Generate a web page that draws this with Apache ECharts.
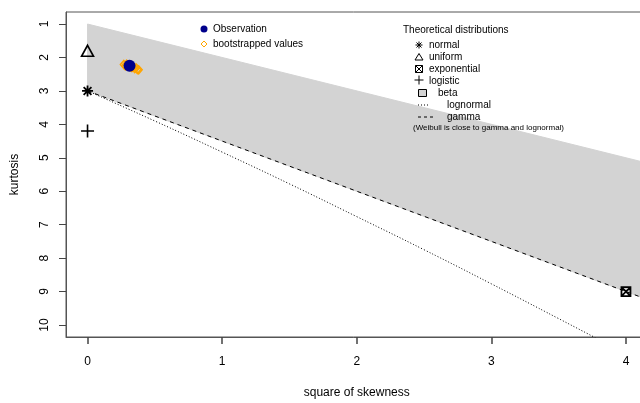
<!DOCTYPE html>
<html>
<head>
<meta charset="utf-8">
<script src="https://cdn.jsdelivr.net/npm/echarts@6/dist/echarts.min.js"></script>
<style>
html, body { margin: 0; padding: 0; background: #fff; }
#chart { width: 640px; height: 403px; }
</style>
</head>
<body>
<div id="chart"></div>
<script>
// tick labels
const xTicks = [0, 1, 2, 3, 4];
const yTicks = [1, 2, 3, 4, 5, 6, 7, 8, 9, 10];

// observed point and bootstrap samples (square of skewness, kurtosis)
const observation = [[0.312, 2.25]];
const bootstrap = [
  [0.27, 2.21], [0.28, 2.25], [0.30, 2.23], [0.33, 2.30], [0.35, 2.33],
  [0.37, 2.36], [0.36, 2.31], [0.29, 2.20], [0.32, 2.27], [0.38, 2.37],
];

// theoretical distributions
const normalPt = [[0, 3]];
const uniformPt = [[0, 1.8]];
const exponentialPt = [[4, 9]];
const logisticPt = [[0, 4.2]];
const betaRegion = [[0, 1], [4.2, 5.2], [4.2, 9.3], [0, 3]];
const gammaLine = [[0, 3], [4.2, 9.3]];
const lognormalLine = [
  [0, 3], [0.5, 3.9], [1, 4.83], [1.5, 5.78], [2, 6.76],
  [2.5, 7.75], [3, 8.77], [3.5, 9.81], [3.8, 10.44],
];

const FONT = '"Liberation Sans", Arial, sans-serif';
const chart = echarts.init(document.getElementById('chart'));

const star = 'path://M0,5L10,5M5,0L5,10M1.46,1.46L8.54,8.54M1.46,8.54L8.54,1.46';
const plus = 'path://M0,5L10,5M5,0L5,10';
const boxX = 'path://M0,0L10,0L10,10L0,10ZM0,0L10,10M10,0L0,10';

function txt(x, y, s, size) {
  return {
    type: 'text', z: 100,
    style: { x: x, y: y, text: s, fill: '#000', font: (size || 10) + 'px ' + FONT, align: 'left', verticalAlign: 'middle' },
  };
}
function seg(x1, y1, x2, y2, dash) {
  return {
    type: 'line', z: 100,
    shape: { x1: x1, y1: y1, x2: x2, y2: y2 },
    style: { stroke: '#000', lineWidth: 1, lineDash: dash || null },
  };
}

const legendGraphics = [
  { type: 'circle', z: 100, shape: { cx: 204, cy: 29, r: 3.5 }, style: { fill: '#00008B' } },
  txt(213, 29, 'Observation'),
  { type: 'polygon', z: 100, shape: { points: [[204, 41], [207, 44], [204, 47], [201, 44]] }, style: { fill: 'none', stroke: '#FFA500', lineWidth: 1 } },
  txt(213, 44, 'bootstrapped values'),

  txt(403, 30, 'Theoretical distributions'),
  seg(415.5, 45, 422.5, 45), seg(419, 41.5, 419, 48.5), seg(416.5, 42.5, 421.5, 47.5), seg(416.5, 47.5, 421.5, 42.5),
  txt(429, 45, 'normal'),
  { type: 'polygon', z: 100, shape: { points: [[419, 53.5], [423, 60], [415, 60]] }, style: { fill: 'none', stroke: '#000', lineWidth: 1 } },
  txt(429, 57, 'uniform'),
  { type: 'rect', z: 100, shape: { x: 415.5, y: 65.5, width: 7, height: 7 }, style: { fill: 'none', stroke: '#000', lineWidth: 1 } },
  seg(415.5, 65.5, 422.5, 72.5), seg(422.5, 65.5, 415.5, 72.5),
  txt(429, 69, 'exponential'),
  seg(414.5, 80, 423.5, 80), seg(419, 75.5, 419, 84.5),
  txt(429, 81, 'logistic'),
  { type: 'rect', z: 100, shape: { x: 418.5, y: 89.5, width: 8, height: 7 }, style: { fill: '#d3d3d3', stroke: '#000', lineWidth: 1 } },
  txt(438, 93, 'beta'),
  seg(418, 105, 430, 105, [1, 2]),
  txt(447, 105, 'lognormal'),
  seg(418, 117, 434, 117, [3, 3]),
  txt(447, 117, 'gamma'),
  txt(413, 128, '(Weibull is close to gamma and lognormal)', 8),
];

chart.setOption({
  animation: false,
  backgroundColor: '#fff',
  textStyle: { fontFamily: FONT },
  grid: {
    left: 66, top: 12, width: 581.5, bottom: 66,
    outerBoundsMode: 'none',
    show: true, borderColor: '#555', borderWidth: 1, backgroundColor: 'transparent',
  },
  xAxis: {
    type: 'value', min: -0.16, max: 4.16,
    name: 'square of skewness', nameLocation: 'middle', nameGap: 50,
    nameTextStyle: { fontSize: 12, color: '#000', fontFamily: FONT },
    axisLine: { show: true, onZero: false, lineStyle: { color: '#555' } },
    axisTick: { show: true, length: 7, customValues: xTicks, lineStyle: { color: '#444', width: 1.5 } },
    axisLabel: { customValues: xTicks, fontSize: 12, color: '#000', margin: 19, fontFamily: FONT },
    splitLine: { show: false },
  },
  yAxis: {
    type: 'value', inverse: true, min: 0.64, max: 10.36,
    name: 'kurtosis', nameLocation: 'middle', nameGap: 45,
    nameTextStyle: { fontSize: 12, color: '#000', fontFamily: FONT },
    axisLine: { show: true, onZero: false, lineStyle: { color: '#555' } },
    axisTick: { show: true, length: 7, customValues: yTicks, lineStyle: { color: '#444' } },
    axisLabel: { customValues: yTicks, rotate: 90, fontSize: 12, color: '#000', margin: 15, fontFamily: FONT },
    splitLine: { show: false },
  },
  graphic: legendGraphics,
  series: [
    {
      type: 'custom', silent: true, clip: true, z: 1,
      data: betaRegion,
      renderItem: function (params, api) {
        if (params.dataIndex !== 0) return null;
        return {
          type: 'polygon',
          shape: { points: betaRegion.map(p => api.coord(p)) },
          style: { fill: '#d3d3d3', stroke: '#d3d3d3' },
        };
      },
    },
    {
      type: 'line', data: gammaLine, symbol: 'none', silent: true, z: 2,
      lineStyle: { color: '#000', width: 1, type: [4, 4] },
    },
    {
      type: 'line', data: lognormalLine, symbol: 'none', silent: true, z: 2, smooth: true,
      lineStyle: { color: '#000', width: 1, type: [1, 2] },
    },
    {
      type: 'scatter', data: normalPt, symbol: star, symbolSize: 11, z: 3,
      itemStyle: { color: 'transparent', borderColor: '#000', borderWidth: 1.8, opacity: 1 },
    },
    {
      type: 'scatter', data: uniformPt, symbol: 'triangle', symbolSize: [12, 11], z: 3,
      itemStyle: { color: 'transparent', borderColor: '#000', borderWidth: 1.6, opacity: 1 },
    },
    {
      type: 'scatter', data: exponentialPt, symbol: boxX, symbolSize: 9, z: 3,
      itemStyle: { color: 'transparent', borderColor: '#000', borderWidth: 1.8, opacity: 1 },
    },
    {
      type: 'scatter', data: logisticPt, symbol: plus, symbolSize: 13, z: 3,
      itemStyle: { color: 'transparent', borderColor: '#000', borderWidth: 1.6, opacity: 1 },
    },
    {
      type: 'scatter', data: bootstrap, symbol: 'diamond', symbolSize: [7, 8], z: 4,
      itemStyle: { color: 'transparent', borderColor: '#FFA500', borderWidth: 1.5, opacity: 1 },
    },
    {
      type: 'scatter', data: observation, symbol: 'circle', symbolSize: 12, z: 5,
      itemStyle: { color: '#00008B', opacity: 1 },
    },
  ],
});
</script>
</body>
</html>
